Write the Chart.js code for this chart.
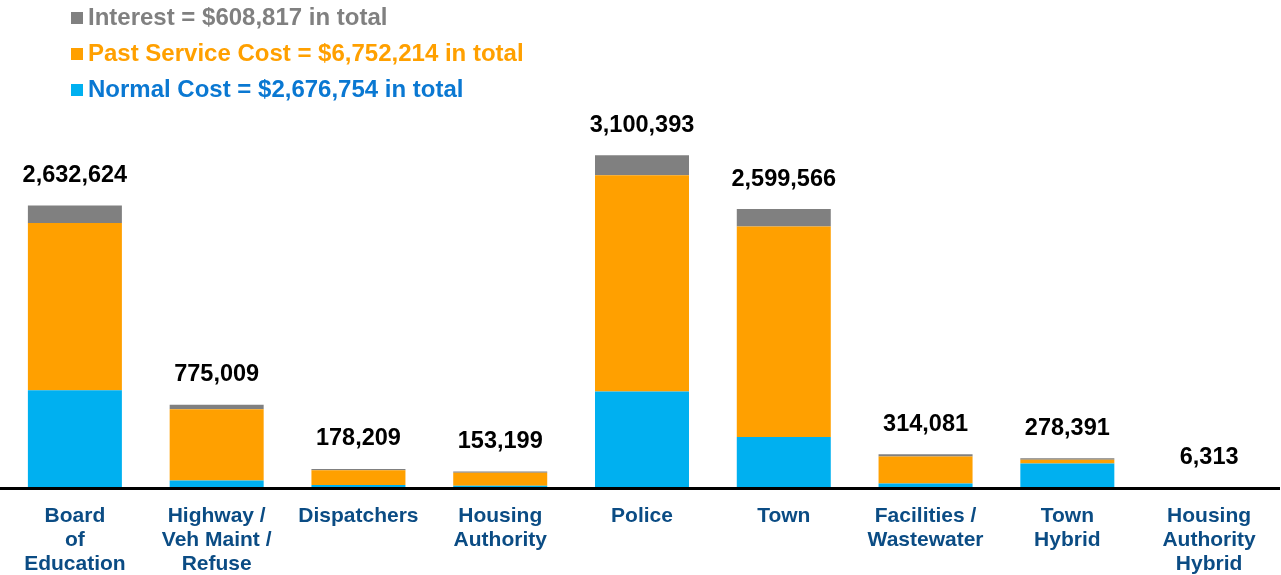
<!DOCTYPE html>
<html>
<head>
<meta charset="utf-8">
<script src="https://cdn.jsdelivr.net/npm/chart.js@4/dist/chart.umd.min.js"></script>
<style>
  html, body { margin: 0; padding: 0; background: #ffffff; }
  #wrap { width: 1281px; height: 575px; }
</style>
</head>
<body>
<div id="wrap"><canvas id="c" width="1281" height="575"></canvas></div>
<script>
const categories = [
  ["Board", "of", "Education"],
  ["Highway /", "Veh Maint /", "Refuse"],
  ["Dispatchers"],
  ["Housing", "Authority"],
  ["Police"],
  ["Town"],
  ["Facilities /", "Wastewater"],
  ["Town", "Hybrid"],
  ["Housing", "Authority", "Hybrid"]
];
const normalCost      = [910000, 68754, 27000, 21000, 900000, 475000, 42000, 228000, 5000];
const pastServiceCost = [1560000, 666214, 139000, 122000, 2015000, 1963000, 251000, 35000, 1000];
const interest        = [162624, 40041, 12209, 10199, 185393, 161566, 21081, 15391, 313];
const seriesNames = ["Normal Cost", "Past Service Cost", "Interest"];
const seriesColors = ["#00B0F0", "#FFA000", "#808080"];
const legendTextColors = ["#0A78D2", "#FFA000", "#808080"];

const fmt = v => v.toLocaleString("en-US");
const FONT = "'Liberation Sans', Arial, sans-serif";

const seriesData = [normalCost, pastServiceCost, interest];

const legendPlugin = {
  id: "customLegend",
  afterDraw(chart) {
    const ctx = chart.ctx;
    ctx.save();
    ctx.font = "bold 24px " + FONT;
    ctx.textAlign = "left";
    ctx.textBaseline = "alphabetic";
    // top-down order: Interest, Past Service, Normal
    for (let k = 0; k < 3; k++) {
      const idx = 2 - k;
      const total = seriesData[idx].reduce((a, b) => a + b, 0);
      const baseY = 25 + k * 36;
      ctx.fillStyle = seriesColors[idx];
      ctx.fillRect(71, baseY - 13, 12, 12);
      ctx.fillStyle = legendTextColors[idx];
      ctx.fillText(seriesNames[idx] + " = $" + fmt(total) + " in total", 88, baseY);
    }
    ctx.restore();
  }
};

const totalsPlugin = {
  id: "totals",
  afterDatasetsDraw(chart) {
    const ctx = chart.ctx;
    const metas = chart.data.datasets.map((d, i) => chart.getDatasetMeta(i));
    ctx.save();
    ctx.font = "bold 23.5px " + FONT;
    ctx.fillStyle = "#000000";
    ctx.textAlign = "center";
    ctx.textBaseline = "middle";
    categories.forEach((c, i) => {
      const total = seriesData.reduce((s, arr) => s + arr[i], 0);
      const top = metas[metas.length - 1].data[i];
      ctx.fillText(fmt(total), top.x, top.y - 30);
    });
    // baseline axis line
    const area = chart.chartArea;
    ctx.strokeStyle = "#000000";
    ctx.lineWidth = 3;
    ctx.beginPath();
    ctx.moveTo(0, area.bottom + 0.5);
    ctx.lineTo(area.right, area.bottom + 0.5);
    ctx.stroke();
    ctx.restore();
  }
};

new Chart(document.getElementById("c"), {
  type: "bar",
  data: {
    labels: categories,
    datasets: seriesData.map((d, i) => ({
      label: seriesNames[i],
      data: d,
      backgroundColor: seriesColors[i],
      borderWidth: 0,
      categoryPercentage: 1.0,
      barPercentage: 0.663
    }))
  },
  options: {
    responsive: false,
    devicePixelRatio: 1,
    animation: false,
    layout: { padding: { top: 112.5, left: 4, right: 1, bottom: 0 } },
    plugins: {
      legend: { display: false },
      tooltip: { enabled: false }
    },
    scales: {
      x: {
        stacked: true,
        grid: { display: false, drawTicks: false },
        border: { display: false },
        ticks: {
          autoSkip: false,
          maxRotation: 0,
          minRotation: 0,
          padding: 16,
          color: "#0B4C84",
          font: { family: FONT, size: 21, weight: "bold", lineHeight: 1.15 }
        },
        afterFit(scale) { scale.height = 87; }
      },
      y: {
        stacked: true,
        display: false,
        min: 0,
        max: 3500000
      }
    }
  },
  plugins: [legendPlugin, totalsPlugin]
});
</script>
</body>
</html>
